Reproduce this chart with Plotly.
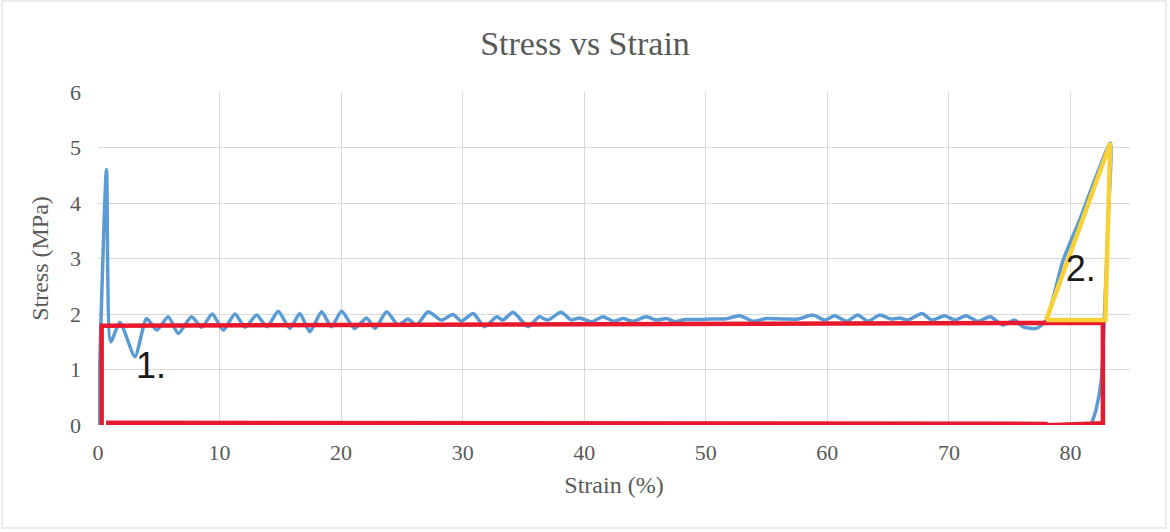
import plotly.graph_objects as go

# ---- data ----
strain = [0, 0.7, 1.05, 1.8, 3.04, 4.0, 4.83, 5.78, 6.6, 7.7, 8.53, 9.4, 10.3, 11.27, 12.1,
          13.05, 13.9, 14.83, 15.79, 16.6, 17.43, 18.4, 19.2, 20.04, 21.1, 22.1, 22.8, 23.74,
          24.7, 25.5, 26.2, 27.16, 28.26, 29.2, 29.9, 30.86, 31.8, 32.8, 33.3, 34.15, 35.4,
          36.3, 37.0, 38.1, 38.95, 39.6, 40.6, 41.55, 42.4, 43.2, 44.0, 45.1, 45.95, 46.8,
          47.45, 48.3, 49.5, 50.5, 51.6, 52.8, 53.9, 55.0, 56.3, 57.6, 58.8, 59.8, 60.6, 61.6,
          62.5, 63.35, 64.3, 65.27, 65.95, 66.6, 67.8, 68.6, 69.65, 70.5, 71.4, 72.4, 73.4,
          74.45, 75.4, 76.1, 77.2, 78.0, 79.4, 80.75, 82.1, 83.28, 83.1, 82.8, 82.54, 82.1, 81.7]
stress = [0, 4.6, 1.5, 1.85, 1.23, 1.92, 1.71, 1.95, 1.65, 1.95, 1.76, 2.0, 1.71, 2.0, 1.76,
          1.98, 1.77, 2.05, 1.74, 2.01, 1.68, 2.04, 1.77, 2.05, 1.74, 1.93, 1.74, 2.04,
          1.80, 1.91, 1.80, 2.04, 1.89, 1.99, 1.87, 2.01, 1.77, 1.95, 1.89, 2.03, 1.77,
          1.95, 1.89, 2.03, 1.89, 1.93, 1.86, 1.95, 1.87, 1.92, 1.87, 1.95, 1.89, 1.92,
          1.86, 1.90, 1.90, 1.91, 1.91, 1.97, 1.87, 1.92, 1.91, 1.91, 1.98, 1.89, 1.97, 1.87,
          1.98, 1.87, 1.98, 1.91, 1.93, 1.89, 2.01, 1.89, 1.97, 1.89, 1.97, 1.87, 1.95,
          1.80, 1.89, 1.77, 1.74, 1.89, 2.97, 3.69, 4.47, 5.08, 3.69, 2.0, 0.81, 0.27, 0.0]

# hand-drawn annotation outlines (data coordinates)
red_x = [0.3, 0.3, 82.67, 82.67, None, 0.66, 78.0, 78.1, 82.67]
red_y = [-0.02, 1.79, 1.84, -0.03, None, 0.04, 0.02, -0.005, 0.03]
yellow_x = [78.0, 83.28, 82.87, 78.0]
yellow_y = [1.89, 5.08, 1.89, 1.89]
labels = ["1.", "2."]
label_x = [4.36, 80.84]
label_y = [1.01, 2.75]

x_ticks = [0, 10, 20, 30, 40, 50, 60, 70, 80]
y_ticks = [0, 1, 2, 3, 4, 5, 6]

W, H = 1170, 532
L, R, T, B = 98, 40, 92, 107

fig = go.Figure()
fig.add_trace(go.Scatter(x=strain, y=stress, mode="lines",
                         line=dict(color="#5B9BD5", width=3.5, shape="spline", smoothing=0.6),
                         showlegend=False, hoverinfo="skip"))
fig.add_trace(go.Scatter(x=red_x, y=red_y, mode="lines",
                         line=dict(color="#E8192C", width=4.5),
                         showlegend=False, hoverinfo="skip"))
fig.add_trace(go.Scatter(x=yellow_x, y=yellow_y, mode="lines",
                         line=dict(color="#F8D135", width=4.5),
                         showlegend=False, hoverinfo="skip"))
fig.add_trace(go.Scatter(x=label_x, y=label_y, mode="text", text=labels,
                         textfont=dict(family="Liberation Sans", size=36, color="#1A1A1A"),
                         showlegend=False, hoverinfo="skip", cliponaxis=False))

pw = W - L - R
ph = H - T - B
fig.add_shape(type="rect", xref="paper", yref="paper",
              x0=(2 - L) / pw, x1=(W - 4 - L) / pw,
              y0=-(B - 4) / ph, y1=(ph + T - 1) / ph,
              line=dict(color="#D9D9D9", width=1), fillcolor="rgba(0,0,0,0)", layer="below")

axis_font = dict(family="Liberation Serif", size=22, color="#595959")
title_font = dict(family="Liberation Serif", size=24, color="#595959")
fig.update_layout(
    width=W, height=H,
    margin=dict(l=L, r=R, t=T, b=B),
    paper_bgcolor="white", plot_bgcolor="white",
    title=dict(text="Stress vs Strain", x=0.5, xref="container", xanchor="center",
               y=1 - 43 / H, yref="container", yanchor="middle",
               font=dict(family="Liberation Serif", size=34, color="#595959")),
    xaxis=dict(range=[0, 84.9], tickvals=x_ticks, showgrid=True, gridcolor="#D9D9D9",
               gridwidth=1, zeroline=False, showline=False, ticks="",
               tickfont=axis_font, ticklabelstandoff=12,
               title=dict(text="Strain (%)", standoff=12, font=title_font)),
    yaxis=dict(range=[0, 6], tickvals=y_ticks, showgrid=True, gridcolor="#D9D9D9",
               gridwidth=1, zeroline=False, showline=False, ticks="",
               tickfont=axis_font, ticklabelstandoff=16,
               title=dict(text="Stress (MPa)", standoff=14, font=title_font)),
)

fig.write_html("out.html")
